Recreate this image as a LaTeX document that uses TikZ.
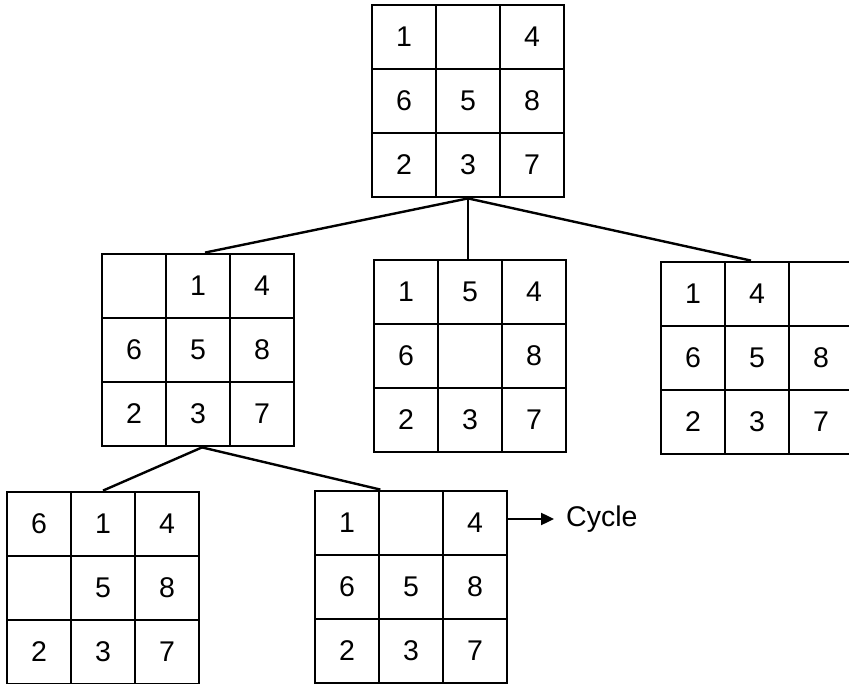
\documentclass[tikz,border=0pt]{standalone}
\usepackage{fontspec}
\setmainfont{Liberation Sans}
\usetikzlibrary{arrows.meta}

\tikzset{
  cell/.style={draw, line width=2.8pt, minimum size=64pt, inner sep=0pt,
    font=\fontsize{28.5}{33}\selectfont},
  boardframe/.style={draw, line width=2.8pt, minimum size=192pt, inner sep=0pt},
  link/.style={draw, line width=2.4pt},
  cyclearrow/.style={draw, line width=2.4pt, -{Triangle[length=13pt,width=12pt]}},
}

% \board{name}{left x}{top y}{nine entries, row by row}
\newcommand{\board}[4]{%
  \foreach \v [count=\i from 0] in {#4} {%
    \pgfmathtruncatemacro\rowidx{div(\i,3)}%
    \pgfmathtruncatemacro\colidx{mod(\i,3)}%
    \node[cell] (#1-\i) at (#2+32+64*\colidx, #3+32+64*\rowidx) {\v};
  }
  \node[boardframe] (#1) at (#2+96, #3+96) {};
}

\begin{document}
\begin{tikzpicture}[x=1pt, y=-1pt]
  \useasboundingbox (0,0) rectangle (849,684);

  % root state
  \board{A}{372}{5}{1,{},4,6,5,8,2,3,7}
  % first level
  \board{B}{102}{254}{{},1,4,6,5,8,2,3,7}
  \board{C}{374}{260}{1,5,4,6,{},8,2,3,7}
  \board{D}{661}{262}{1,4,{},6,5,8,2,3,7}
  % second level
  \board{E}{7}{492}{6,1,4,{},5,8,2,3,7}
  \board{F}{315}{491}{1,{},4,6,5,8,2,3,7}

  % tree edges
  \draw[link] (A.south) -- ([xshift=7pt]B.north);
  \draw[link] (A.south) -- (A.south |- C.north);
  \draw[link] (A.south) -- ([xshift=-6pt]D.north);
  \draw[link] ([xshift=4pt]B.south) -- (E.north);
  \draw[link] ([xshift=4pt]B.south) -- (F-0.north east);

  % repeated state marker
  \node[anchor=west, inner sep=0pt, font=\fontsize{28.5}{33}\selectfont] (cyc) at (566,519) {Cycle};
  \coordinate (cycstart) at (F-2.east |- cyc.west);
  \draw[cyclearrow] (cycstart) -- ([xshift=-12pt]cyc.west);
\end{tikzpicture}
\end{document}
